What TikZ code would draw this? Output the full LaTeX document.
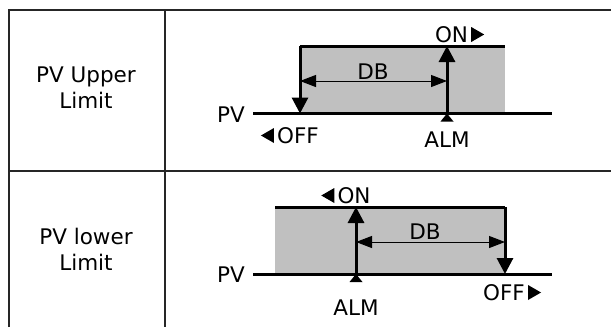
\documentclass[tikz,border=0pt]{standalone}
\usepackage{fontspec}
\setmainfont{DejaVu Sans}
\usetikzlibrary{arrows.meta}
\definecolor{boxgray}{HTML}{C0C0C0}
\begin{document}
\begin{tikzpicture}[x=1pt,y=-1pt,
  grid/.style={draw=black!85,line width=1.3pt},
  heavy/.style={line width=3pt},
  varrow/.style={heavy,-{Triangle[length=16pt,width=16pt]}},
  dbarrow/.style={line width=1pt,{Triangle[length=16pt,width=12pt]}-{Triangle[length=16pt,width=12pt]}},
  lbl/.style={font=\fontsize{21.5}{24}\selectfont,inner sep=0pt,anchor=base},
  cell/.style={font=\fontsize{21.5}{26}\selectfont,align=center,inner sep=0pt},
  almtri/.style={fill=black}]
\useasboundingbox (0,0) rectangle (611,327);
% table
\coordinate (tl) at (9,10); \coordinate (tr) at (611,10);
\coordinate (bl) at (9,327);
\coordinate (dt) at (165,10); \coordinate (db) at (165,327);
\coordinate (ml) at (9,171); \coordinate (mr) at (611,171);
\draw[grid] (bl) -- (tl) -- (tr);
\draw[grid] (dt) -- (db);
\draw[grid] (ml) -- (mr);
\node[cell] (c1) at (86,88) {PV Upper\\Limit};
\node[cell] (c2) at (86,249) {PV lower\\Limit};

% ---- upper diagram
\coordinate (u1) at (300,46); \coordinate (u2) at (505,46);
\coordinate (u3) at (505,113.5); \coordinate (u4) at (300,113.5);
\coordinate (ua) at (447,113.5); \coordinate (ub) at (447,46);
\coordinate (upl) at (253,113.5); \coordinate (upr) at (552,113.5);
\fill[boxgray] (u1) rectangle (u3);
\draw[heavy] (u1) -- (u2);
\draw[varrow] (u1) -- (u4);
\draw[heavy] (upl) -- (upr);
\draw[varrow] (ua) -- (ub);
\fill[almtri] (ua) -- ++(6.5,8) -- ++(-13,0) -- cycle;
\coordinate (udl) at (300,81); \coordinate (udr) at (447,81);
\draw[dbarrow] (udl) -- (udr);
\node[lbl] (udb) at (373,79) {DB};
\node[lbl,anchor=base east] (upv) at (245,122) {PV};
\node[lbl] (ualm) at (447,147) {ALM};
\node[lbl] (uon) at (451.5,42) {ON};
\fill ([xshift=3pt]uon.base east) -- ++(0,-15) -- ++(13,7.5) -- cycle;
\node[lbl] (uoff) at (298,143) {OFF};
\fill ([xshift=-3pt]uoff.base west) -- ++(0,-15) -- ++(-13,7.5) -- cycle;

% ---- lower diagram
\coordinate (l1) at (275,207); \coordinate (l2) at (505,207);
\coordinate (l3) at (505,274); \coordinate (l4) at (275,274);
\coordinate (la) at (356,274); \coordinate (lb) at (356,207);
\coordinate (lpl) at (253,274); \coordinate (lpr) at (552,274);
\fill[boxgray] (l1) rectangle (l3);
\draw[heavy] (l1) -- (l2);
\draw[varrow] (l2) -- (l3);
\draw[heavy] (lpl) -- (lpr);
\draw[varrow] (la) -- (lb);
\fill[almtri] (la) -- ++(6.5,8) -- ++(-13,0) -- cycle;
\coordinate (ldl) at (356,242); \coordinate (ldr) at (505,242);
\draw[dbarrow] (ldl) -- (ldr);
\node[lbl] (ldb) at (425,239) {DB};
\node[lbl,anchor=base east] (lpv) at (245,282) {PV};
\node[lbl] (lalm) at (356,315) {ALM};
\node[lbl] (lon) at (354,203) {ON};
\fill ([xshift=-3pt]lon.base west) -- ++(0,-15) -- ++(-13,7.5) -- cycle;
\node[lbl] (loff) at (504,300) {OFF};
\fill ([xshift=3pt]loff.base east) -- ++(0,-15) -- ++(13,7.5) -- cycle;
\end{tikzpicture}
\end{document}
